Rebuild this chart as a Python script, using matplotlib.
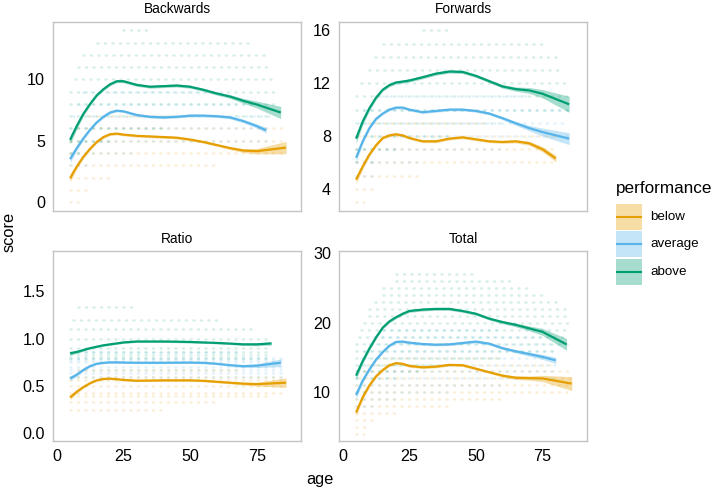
import matplotlib.pyplot as plt
from matplotlib.patches import Rectangle

plt.rcParams["font.family"] = ["Liberation Sans", "DejaVu Sans"]

GROUPS = ["below", "average", "above"]
COLORS = ["#E69F00", "#56B4E9", "#009E73"]

# ages where the smoothed curves were read; each series adds its own last age
AGE = [5, 7.5, 10, 12.5, 15, 17.5, 20, 22.5, 25, 30, 35, 40, 45, 50, 55, 60, 65, 70, 75]

# --- Backwards
bw_end = [86, 78.5, 84]
bw_below = [1.95, 2.9, 3.7, 4.35, 4.9, 5.3, 5.53, 5.58, 5.5, 5.4, 5.35, 5.3, 5.25, 5.1, 4.9, 4.65, 4.4, 4.2, 4.15, 4.44]
bw_average = [3.5, 4.4, 5.2, 5.9, 6.5, 6.95, 7.3, 7.45, 7.4, 7.1, 6.95, 6.9, 6.95, 7.05, 7.05, 7.0, 6.9, 6.6, 6.2, 5.85]
bw_above = [5.07, 6.2, 7.2, 8.0, 8.7, 9.2, 9.6, 9.85, 9.85, 9.55, 9.4, 9.45, 9.5, 9.4, 9.15, 8.85, 8.6, 8.25, 7.95, 7.3]
bw_below_se = [0.3, 0.2, 0.15, 0.12, 0.1, 0.1, 0.1, 0.1, 0.1, 0.1, 0.1, 0.1, 0.1, 0.1, 0.1, 0.1, 0.12, 0.16, 0.22, 0.5]
bw_average_se = [0.3, 0.2, 0.15, 0.12, 0.1, 0.1, 0.1, 0.1, 0.1, 0.1, 0.1, 0.1, 0.1, 0.1, 0.1, 0.1, 0.12, 0.14, 0.17, 0.22]
bw_above_se = [0.35, 0.25, 0.18, 0.14, 0.12, 0.12, 0.12, 0.12, 0.12, 0.12, 0.12, 0.12, 0.12, 0.12, 0.12, 0.13, 0.15, 0.2, 0.28, 0.5]

# --- Forwards
fw_end = [80, 85, 85]
fw_below = [4.7, 5.7, 6.6, 7.3, 7.85, 8.05, 8.13, 8.05, 7.85, 7.6, 7.6, 7.8, 7.9, 7.75, 7.6, 7.55, 7.6, 7.45, 7.0, 6.3]
fw_average = [6.35, 7.6, 8.6, 9.3, 9.7, 10.0, 10.15, 10.15, 10.0, 9.8, 9.9, 10.0, 10.0, 9.9, 9.7, 9.35, 8.96, 8.6, 8.3, 7.8]
fw_above = [7.8, 9.1, 10.1, 10.9, 11.5, 11.85, 12.05, 12.12, 12.2, 12.45, 12.72, 12.88, 12.85, 12.55, 12.15, 11.75, 11.55, 11.45, 11.2, 10.4]
fw_below_se = [0.3, 0.2, 0.15, 0.12, 0.1, 0.1, 0.1, 0.1, 0.1, 0.1, 0.1, 0.1, 0.1, 0.1, 0.1, 0.1, 0.12, 0.15, 0.2, 0.25]
fw_average_se = [0.3, 0.2, 0.15, 0.12, 0.1, 0.1, 0.1, 0.1, 0.1, 0.1, 0.1, 0.1, 0.1, 0.1, 0.1, 0.12, 0.15, 0.2, 0.3, 0.45]
fw_above_se = [0.35, 0.25, 0.18, 0.14, 0.12, 0.12, 0.12, 0.12, 0.12, 0.12, 0.12, 0.12, 0.12, 0.12, 0.12, 0.13, 0.16, 0.22, 0.32, 0.6]

# --- Ratio
ra_end = [86, 84, 80.5]
ra_below = [0.38, 0.44, 0.49, 0.53, 0.56, 0.575, 0.578, 0.572, 0.565, 0.556, 0.558, 0.56, 0.56, 0.56, 0.555, 0.545, 0.535, 0.525, 0.52, 0.535]
ra_average = [0.58, 0.62, 0.67, 0.71, 0.735, 0.745, 0.75, 0.75, 0.748, 0.746, 0.746, 0.746, 0.747, 0.748, 0.745, 0.735, 0.72, 0.71, 0.715, 0.746]
ra_above = [0.845, 0.86, 0.88, 0.9, 0.915, 0.93, 0.94, 0.95, 0.96, 0.97, 0.97, 0.97, 0.968, 0.965, 0.96, 0.955, 0.948, 0.94, 0.94, 0.95]
ra_below_se = [0.025, 0.018, 0.013, 0.01, 0.01, 0.01, 0.01, 0.01, 0.01, 0.01, 0.01, 0.01, 0.01, 0.01, 0.01, 0.01, 0.012, 0.015, 0.02, 0.05]
ra_average_se = [0.025, 0.018, 0.013, 0.01, 0.01, 0.01, 0.01, 0.01, 0.01, 0.01, 0.01, 0.01, 0.01, 0.01, 0.01, 0.01, 0.012, 0.015, 0.02, 0.04]
ra_above_se = [0.02, 0.015, 0.012, 0.01, 0.01, 0.01, 0.01, 0.01, 0.01, 0.01, 0.01, 0.01, 0.01, 0.01, 0.01, 0.01, 0.01, 0.012, 0.014, 0.018]

# --- Total
to_end = [86, 80, 84]
to_below = [7.1, 9.3, 11.0, 12.3, 13.2, 13.9, 14.2, 14.1, 13.8, 13.6, 13.7, 13.95, 13.9, 13.4, 12.9, 12.4, 12.1, 12.05, 12.0, 11.25]
to_average = [9.6, 11.7, 13.3, 14.7, 15.8, 16.7, 17.25, 17.3, 17.15, 16.95, 16.85, 16.9, 17.1, 17.3, 17.0, 16.35, 15.9, 15.5, 15.1, 14.6]
to_above = [12.4, 14.5, 16.3, 17.9, 19.3, 20.2, 20.8, 21.3, 21.7, 21.9, 22.0, 22.0, 21.7, 21.3, 20.6, 20.1, 19.7, 19.2, 18.7, 16.9]
to_below_se = [0.5, 0.35, 0.25, 0.2, 0.18, 0.18, 0.18, 0.18, 0.18, 0.18, 0.18, 0.18, 0.18, 0.18, 0.18, 0.2, 0.25, 0.3, 0.45, 1.0]
to_average_se = [0.5, 0.35, 0.25, 0.2, 0.18, 0.18, 0.18, 0.18, 0.18, 0.18, 0.18, 0.18, 0.18, 0.18, 0.18, 0.2, 0.25, 0.3, 0.35, 0.45]
to_above_se = [0.55, 0.4, 0.3, 0.22, 0.2, 0.2, 0.2, 0.2, 0.2, 0.2, 0.2, 0.2, 0.2, 0.2, 0.2, 0.22, 0.28, 0.35, 0.5, 0.85]

# raw observations, summarised as rows of dots: (score, first age, last age)
bw_rows_below = [(0, 5, 8), (1, 5, 12), (2, 5, 20), (3, 5, 60), (4, 5, 86), (5, 5, 86), (6, 8, 86), (7, 12, 50)]
bw_rows_average = [(3, 5, 12), (4, 5, 30), (5, 5, 80), (6, 5, 80), (7, 6, 80), (8, 8, 78), (9, 10, 60)]
bw_rows_above = [(4, 5, 10), (5, 5, 20), (6, 5, 40), (7, 5, 80), (8, 5, 82), (9, 5, 82), (10, 7, 82),
                 (11, 8, 80), (12, 10, 78), (13, 15, 72), (14, 25, 35)]
fw_rows_below = [(3, 5, 8), (4, 5, 12), (5, 5, 30), (6, 5, 80), (7, 5, 80), (8, 6, 80), (9, 10, 55)]
fw_rows_average = [(5, 5, 12), (6, 5, 30), (7, 5, 60), (8, 5, 85), (9, 6, 85), (10, 8, 85), (11, 12, 70)]
fw_rows_above = [(6, 5, 12), (7, 5, 20), (8, 5, 40), (9, 5, 60), (10, 5, 85), (11, 5, 85), (12, 7, 85),
                 (13, 10, 82), (14, 12, 80), (15, 15, 75), (16, 30, 40)]
ra_rows_below = [(0.25, 5, 40), (0.33, 5, 60), (0.4, 5, 80), (0.43, 5, 86), (0.5, 5, 86), (0.56, 5, 86),
                 (0.6, 5, 86), (0.67, 8, 70)]
ra_rows_average = [(0.6, 5, 84), (0.64, 5, 84), (0.67, 5, 84), (0.7, 5, 84), (0.75, 5, 84), (0.78, 5, 84),
                   (0.8, 5, 84), (0.86, 8, 70)]
ra_rows_above = [(0.8, 5, 80), (0.83, 5, 80), (0.86, 5, 80), (0.9, 5, 80), (1.0, 5, 80), (1.1, 5, 75),
                 (1.2, 6, 60), (1.33, 8, 30)]
to_rows_below = [(4, 5, 8), (5, 5, 10), (6, 5, 12), (7, 5, 20), (8, 5, 40), (9, 5, 60), (10, 5, 86),
                 (11, 5, 86), (12, 6, 86), (13, 8, 86), (14, 10, 80), (15, 15, 60)]
to_rows_average = [(8, 5, 12), (9, 5, 20), (10, 5, 40), (11, 5, 60), (12, 5, 80), (13, 5, 80), (14, 6, 80),
                   (15, 7, 80), (16, 8, 80), (17, 10, 80), (18, 12, 75), (19, 15, 60)]
to_rows_above = [(10, 5, 10), (12, 5, 20), (13, 5, 30), (14, 5, 40), (15, 5, 60), (16, 5, 80), (17, 5, 85),
                 (18, 6, 85), (19, 7, 85), (20, 8, 85), (21, 10, 85), (22, 10, 85), (23, 12, 80),
                 (24, 15, 75), (25, 15, 70), (26, 20, 65), (27, 20, 50)]

PANELS = [
    ("Backwards", [bw_below, bw_average, bw_above], [bw_below_se, bw_average_se, bw_above_se], bw_end,
     [bw_rows_below, bw_rows_average, bw_rows_above], [0, 5, 10], (-0.7, 14.7)),
    ("Forwards", [fw_below, fw_average, fw_above], [fw_below_se, fw_average_se, fw_above_se], fw_end,
     [fw_rows_below, fw_rows_average, fw_rows_above], [4, 8, 12, 16], (2.35, 16.65)),
    ("Ratio", [ra_below, ra_average, ra_above], [ra_below_se, ra_average_se, ra_above_se], ra_end,
     [ra_rows_below, ra_rows_average, ra_rows_above], [0.0, 0.5, 1.0, 1.5], (-0.08, 1.925)),
    ("Total", [to_below, to_average, to_above], [to_below_se, to_average_se, to_above_se], to_end,
     [to_rows_below, to_rows_average, to_rows_above], [10, 20, 30], (3.0, 30.33)),
]

W, H = 716, 490
fig = plt.figure(figsize=(W / 100, H / 100), dpi=100)

# panel boxes in pixels: left, top, right, bottom
boxes = [(53.3, 21.7, 301, 210.7), (339.3, 21.7, 586.7, 210.7),
         (53.3, 251, 301, 441), (339.3, 251, 586.7, 441)]


def draw_panel(ax, title, fits, ses, ends, rows, yticks, ylim):
    # faint raw data first
    for row, color in zip(rows, COLORS):
        ax.hlines([r[0] for r in row], [r[1] for r in row], [r[2] for r in row], colors=color,
                  linestyles=(0, (0.4, 2.6)), linewidth=1.8, alpha=0.16, capstyle="round")
    for fit, se, end, color in zip(fits, ses, ends, COLORS):
        ages = AGE + [end]
        lo = [f - s for f, s in zip(fit, se)]
        hi = [f + s for f, s in zip(fit, se)]
        ax.fill_between(ages, lo, hi, color=color, alpha=0.35, linewidth=0)
        ax.plot(ages, fit, color=color, linewidth=1.6, solid_capstyle="butt")
    ax.set_xlim(-1.3, 91.6)
    ax.set_ylim(*ylim)
    ax.set_xticks([0, 25, 50, 75])
    ax.set_yticks(yticks)
    ax.set_title(title, fontsize=9.9, pad=6)
    ax.tick_params(length=0, labelsize=11.6, pad=6, colors="black")
    for sp in ax.spines.values():
        sp.set_color("#C4C4C4")
        sp.set_linewidth(1.0)


for i, (box, panel) in enumerate(zip(boxes, PANELS)):
    l, t, r, b = box
    ax = fig.add_axes([l / W, 1 - b / H, (r - l) / W, (b - t) / H])
    draw_panel(ax, *panel)
    if i < 2:
        ax.set_xticklabels([])

fig.text(320 / W, 1 - 479 / H, "age", fontsize=11.8, ha="center", va="center")
fig.text(9 / W, 1 - 232 / H, "score", fontsize=11.8, rotation=90, ha="center", va="center")

# legend drawn by hand in pixel space so the key box and line share a centre
leg = fig.add_axes([0, 0, 1, 1], zorder=-1)
leg.set_xlim(0, W)
leg.set_ylim(H, 0)
leg.axis("off")
leg.text(616, 188, "performance", fontsize=12.3, ha="left", va="center")
for i, (name, color) in enumerate(zip(GROUPS, COLORS)):
    top = 203.5 + i * 27.8
    leg.add_patch(Rectangle((616, top), 26, 26, facecolor=color, alpha=0.35, linewidth=0))
    leg.plot([617, 641], [top + 13, top + 13], color=color, linewidth=1.5)
    leg.text(650, top + 13, name, fontsize=9.6, ha="left", va="center")

fig.savefig("out.png", dpi=100)
